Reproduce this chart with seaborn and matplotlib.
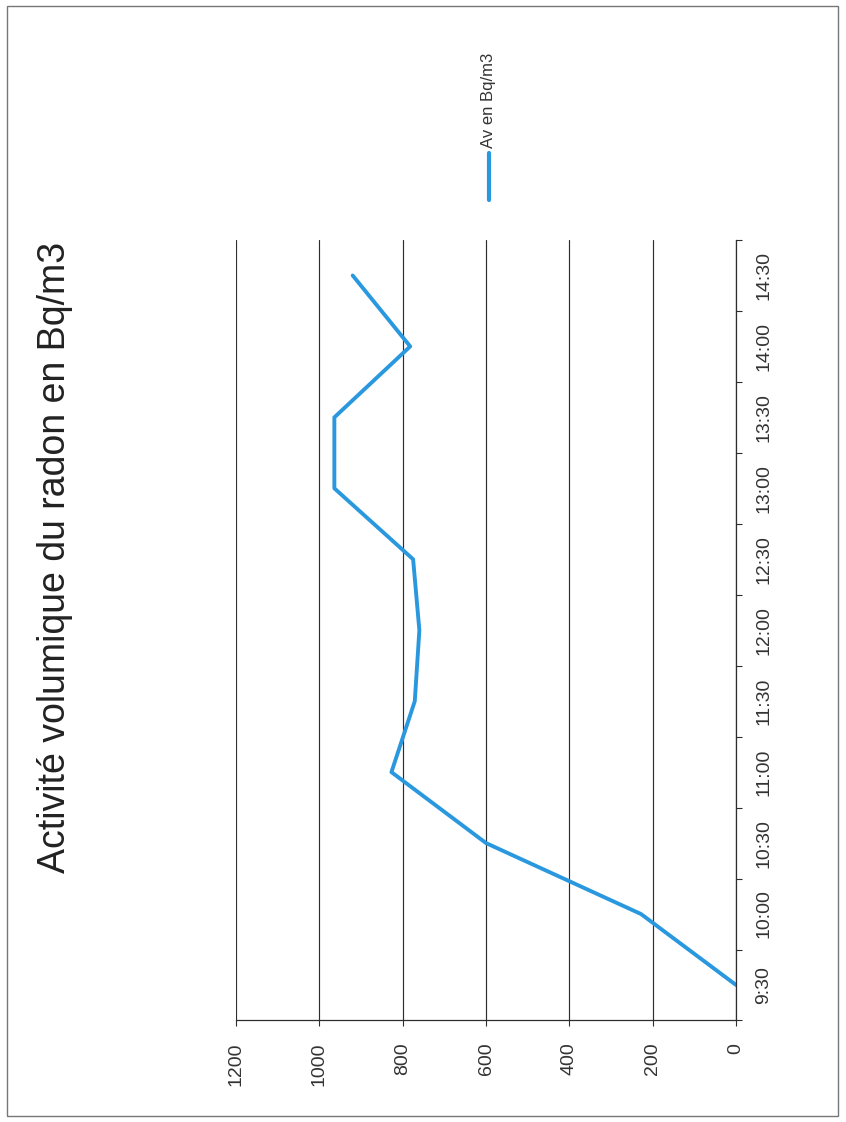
import pandas as pd
import numpy as np
import matplotlib.pyplot as plt
import seaborn as sns
from matplotlib.lines import Line2D
from matplotlib.patches import Rectangle

# heures de mesure et activité volumique (Bq/m3)
heures = ['9:30', '10:00', '10:30', '11:00', '11:30', '12:00',
          '12:30', '13:00', '13:30', '14:00', '14:30']
activite = [0, 228, 600, 827, 771, 760, 775, 964, 964, 782, 920]
graduations = [0, 200, 400, 600, 800, 1000, 1200]

titre = 'Activité volumique du radon en Bq/m3'
serie = 'Av en Bq/m3'

df = pd.DataFrame({'heure': heures, serie: activite})
df['pos'] = range(len(df))

sns.set_style('white')
plt.rcParams['font.family'] = ['Liberation Sans', 'DejaVu Sans']

bleu = '#2a98de'
gris = '#2e2e2e'

fig = plt.figure(figsize=(8.46, 11.22), dpi=100)
ax = fig.add_axes([0.279, 0.0905, 0.591, 0.6956])

# page scannée tournée : le temps monte, les valeurs vont de droite à gauche
sns.lineplot(data=df, x=serie, y='pos', orient='y', sort=False,
             color=bleu, linewidth=2.8, ax=ax)

ax.set_xlim(1200, 0)
ax.set_ylim(-0.5, len(heures) - 0.5)
ax.set_xticks(graduations)
ax.set_xticklabels([str(g) for g in graduations], rotation=90, fontsize=14,
                   color='#333333')
ax.tick_params(axis='x', direction='out', length=4, width=0.8, color=gris,
               pad=12, bottom=True)
ax.grid(axis='x', color=gris, linewidth=0.85)
ax.grid(axis='y', visible=False)

ax.yaxis.tick_right()
ax.set_yticks(df['pos'])
ax.set_yticklabels(heures, rotation=90, va='center', fontsize=14,
                   color='#333333')
ax.set_yticks(np.arange(-0.5, len(heures)), minor=True)
ax.tick_params(axis='y', which='major', length=0, pad=14)
ax.tick_params(axis='y', which='minor', direction='out', length=4,
               width=0.8, color=gris, right=True)
ax.set_xlabel('')
ax.set_ylabel('')
if ax.get_legend():
    ax.get_legend().remove()

for s in ['left', 'top']:
    ax.spines[s].set_visible(False)
for s in ['right', 'bottom']:
    ax.spines[s].set_visible(True)
    ax.spines[s].set_color(gris)
    ax.spines[s].set_linewidth(0.9)

fig.text(0.065, 0.5036, titre, rotation=90, ha='center', va='center',
         fontsize=27, color='#222222')

# légende tournée
fig.add_artist(Line2D([0.578, 0.578], [0.8217, 0.8636], color=bleu,
                      linewidth=3, transform=fig.transFigure))
fig.text(0.578, 0.868, serie, rotation=90, ha='center', va='bottom',
         fontsize=12, color='#333333')

# cadre de la page
fig.add_artist(Rectangle((0.008, 0.005), 0.983, 0.9895, fill=False,
                         edgecolor='#777777', linewidth=1,
                         transform=fig.transFigure))

plt.savefig('out.png', dpi=100)
